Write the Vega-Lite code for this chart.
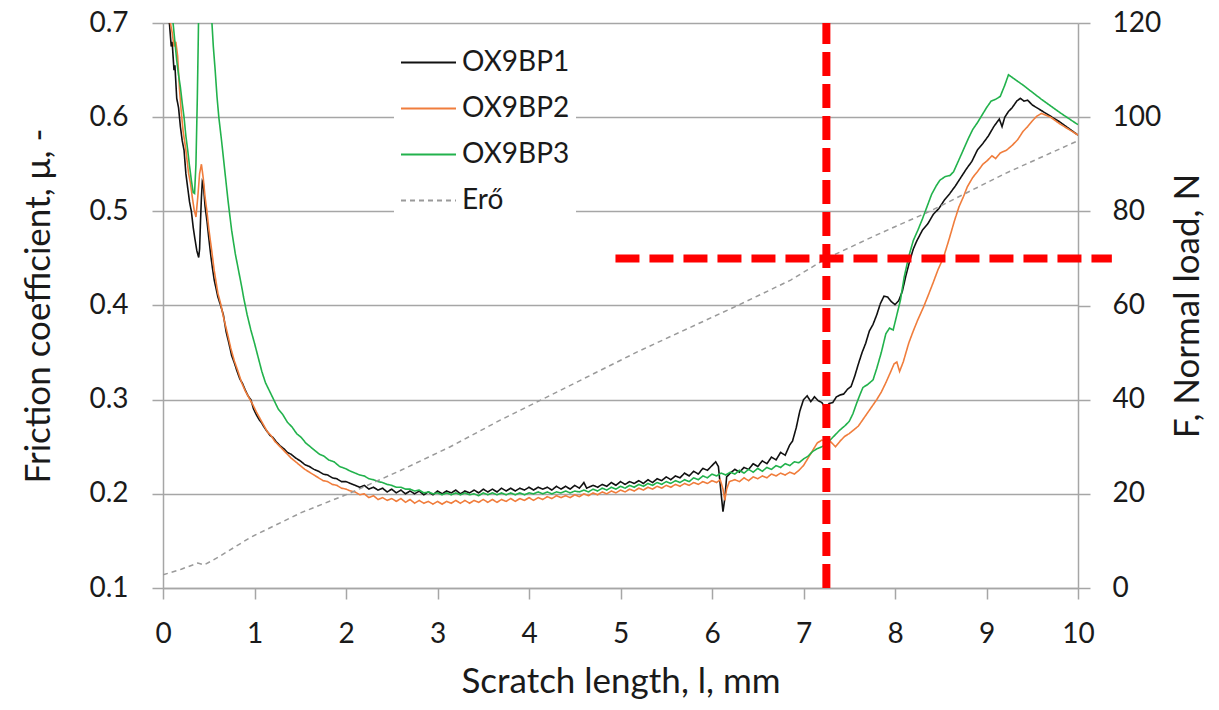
{
  "$schema": "https://vega.github.io/schema/vega-lite/v6.json",
  "width": 915,
  "height": 565,
  "autosize": {"type": "none"},
  "padding": {"left": 163, "top": 23, "right": 141, "bottom": 122},
  "background": "white",
  "config": {
    "font": "Lato",
    "view": {"stroke": null},
    "axis": {
      "domainColor": "#a6a6a6", "domainWidth": 1.5,
      "tickColor": "#a6a6a6", "tickWidth": 1.5,
      "labelColor": "#1a1a1a", "titleColor": "#1a1a1a",
      "labelFontSize": 28, "titleFontSize": 35, "titleFontWeight": "normal",
      "labelFlush": false, "labelOverlap": false,
      "gridColor": "#a6a6a6", "gridWidth": 1.5
    }
  },
  "datasets": {
    "fric": [
      {"x":0.05,"mu":0.76,"s":"OX9BP1"},{"x":0.07,"mu":0.70,"s":"OX9BP1"},{"x":0.09,"mu":0.675,"s":"OX9BP1"},{"x":0.1,"mu":0.68,"s":"OX9BP1"},{"x":0.12,"mu":0.65,"s":"OX9BP1"},{"x":0.13,"mu":0.655,"s":"OX9BP1"},{"x":0.15,"mu":0.62,"s":"OX9BP1"},{"x":0.17,"mu":0.61,"s":"OX9BP1"},{"x":0.19,"mu":0.59,"s":"OX9BP1"},{"x":0.21,"mu":0.575,"s":"OX9BP1"},{"x":0.23,"mu":0.565,"s":"OX9BP1"},{"x":0.25,"mu":0.54,"s":"OX9BP1"},{"x":0.27,"mu":0.525,"s":"OX9BP1"},{"x":0.29,"mu":0.51,"s":"OX9BP1"},{"x":0.31,"mu":0.5,"s":"OX9BP1"},{"x":0.33,"mu":0.483,"s":"OX9BP1"},{"x":0.35,"mu":0.47,"s":"OX9BP1"},{"x":0.37,"mu":0.458,"s":"OX9BP1"},{"x":0.39,"mu":0.451,"s":"OX9BP1"},{"x":0.4,"mu":0.46,"s":"OX9BP1"},{"x":0.41,"mu":0.49,"s":"OX9BP1"},{"x":0.42,"mu":0.515,"s":"OX9BP1"},{"x":0.43,"mu":0.532,"s":"OX9BP1"},{"x":0.44,"mu":0.53,"s":"OX9BP1"},{"x":0.46,"mu":0.505,"s":"OX9BP1"},{"x":0.48,"mu":0.49,"s":"OX9BP1"},{"x":0.5,"mu":0.472,"s":"OX9BP1"},{"x":0.52,"mu":0.455,"s":"OX9BP1"},{"x":0.54,"mu":0.44,"s":"OX9BP1"},{"x":0.56,"mu":0.427,"s":"OX9BP1"},{"x":0.58,"mu":0.418,"s":"OX9BP1"},{"x":0.6,"mu":0.409,"s":"OX9BP1"},{"x":0.63,"mu":0.4,"s":"OX9BP1"},{"x":0.66,"mu":0.39,"s":"OX9BP1"},{"x":0.69,"mu":0.372,"s":"OX9BP1"},{"x":0.72,"mu":0.36,"s":"OX9BP1"},{"x":0.75,"mu":0.347,"s":"OX9BP1"},{"x":0.78,"mu":0.339,"s":"OX9BP1"},{"x":0.81,"mu":0.33,"s":"OX9BP1"},{"x":0.84,"mu":0.322,"s":"OX9BP1"},{"x":0.87,"mu":0.317,"s":"OX9BP1"},{"x":0.9,"mu":0.31,"s":"OX9BP1"},{"x":0.93,"mu":0.304,"s":"OX9BP1"},{"x":0.96,"mu":0.3,"s":"OX9BP1"},{"x":0.99,"mu":0.29,"s":"OX9BP1"},{"x":1.02,"mu":0.284,"s":"OX9BP1"},{"x":1.05,"mu":0.279,"s":"OX9BP1"},{"x":1.08,"mu":0.275,"s":"OX9BP1"},{"x":1.11,"mu":0.27,"s":"OX9BP1"},{"x":1.14,"mu":0.266,"s":"OX9BP1"},{"x":1.17,"mu":0.262,"s":"OX9BP1"},{"x":1.2,"mu":0.26,"s":"OX9BP1"},{"x":1.24,"mu":0.255,"s":"OX9BP1"},{"x":1.28,"mu":0.251,"s":"OX9BP1"},{"x":1.32,"mu":0.248,"s":"OX9BP1"},{"x":1.36,"mu":0.244,"s":"OX9BP1"},{"x":1.4,"mu":0.242,"s":"OX9BP1"},{"x":1.45,"mu":0.238,"s":"OX9BP1"},{"x":1.5,"mu":0.235,"s":"OX9BP1"},{"x":1.55,"mu":0.231,"s":"OX9BP1"},{"x":1.6,"mu":0.229,"s":"OX9BP1"},{"x":1.65,"mu":0.226,"s":"OX9BP1"},{"x":1.7,"mu":0.224,"s":"OX9BP1"},{"x":1.75,"mu":0.221,"s":"OX9BP1"},{"x":1.8,"mu":0.22,"s":"OX9BP1"},{"x":1.85,"mu":0.217,"s":"OX9BP1"},{"x":1.9,"mu":0.216,"s":"OX9BP1"},{"x":1.95,"mu":0.213,"s":"OX9BP1"},{"x":2.0,"mu":0.213,"s":"OX9BP1"},{"x":2.05,"mu":0.211,"s":"OX9BP1"},{"x":2.1,"mu":0.209,"s":"OX9BP1"},{"x":2.15,"mu":0.207,"s":"OX9BP1"},{"x":2.2,"mu":0.209,"s":"OX9BP1"},{"x":2.25,"mu":0.205,"s":"OX9BP1"},{"x":2.3,"mu":0.207,"s":"OX9BP1"},{"x":2.35,"mu":0.204,"s":"OX9BP1"},{"x":2.4,"mu":0.206,"s":"OX9BP1"},{"x":2.45,"mu":0.202,"s":"OX9BP1"},{"x":2.5,"mu":0.205,"s":"OX9BP1"},{"x":2.55,"mu":0.201,"s":"OX9BP1"},{"x":2.6,"mu":0.204,"s":"OX9BP1"},{"x":2.65,"mu":0.2,"s":"OX9BP1"},{"x":2.7,"mu":0.203,"s":"OX9BP1"},{"x":2.75,"mu":0.2,"s":"OX9BP1"},{"x":2.8,"mu":0.203,"s":"OX9BP1"},{"x":2.85,"mu":0.199,"s":"OX9BP1"},{"x":2.9,"mu":0.202,"s":"OX9BP1"},{"x":2.95,"mu":0.199,"s":"OX9BP1"},{"x":3.0,"mu":0.203,"s":"OX9BP1"},{"x":3.05,"mu":0.2,"s":"OX9BP1"},{"x":3.1,"mu":0.203,"s":"OX9BP1"},{"x":3.15,"mu":0.201,"s":"OX9BP1"},{"x":3.2,"mu":0.204,"s":"OX9BP1"},{"x":3.25,"mu":0.2,"s":"OX9BP1"},{"x":3.3,"mu":0.203,"s":"OX9BP1"},{"x":3.35,"mu":0.201,"s":"OX9BP1"},{"x":3.4,"mu":0.204,"s":"OX9BP1"},{"x":3.45,"mu":0.201,"s":"OX9BP1"},{"x":3.5,"mu":0.205,"s":"OX9BP1"},{"x":3.55,"mu":0.202,"s":"OX9BP1"},{"x":3.6,"mu":0.205,"s":"OX9BP1"},{"x":3.65,"mu":0.202,"s":"OX9BP1"},{"x":3.7,"mu":0.206,"s":"OX9BP1"},{"x":3.75,"mu":0.203,"s":"OX9BP1"},{"x":3.8,"mu":0.206,"s":"OX9BP1"},{"x":3.85,"mu":0.203,"s":"OX9BP1"},{"x":3.9,"mu":0.206,"s":"OX9BP1"},{"x":3.95,"mu":0.204,"s":"OX9BP1"},{"x":4.0,"mu":0.207,"s":"OX9BP1"},{"x":4.05,"mu":0.204,"s":"OX9BP1"},{"x":4.1,"mu":0.207,"s":"OX9BP1"},{"x":4.15,"mu":0.205,"s":"OX9BP1"},{"x":4.2,"mu":0.207,"s":"OX9BP1"},{"x":4.25,"mu":0.204,"s":"OX9BP1"},{"x":4.3,"mu":0.208,"s":"OX9BP1"},{"x":4.35,"mu":0.205,"s":"OX9BP1"},{"x":4.4,"mu":0.208,"s":"OX9BP1"},{"x":4.45,"mu":0.205,"s":"OX9BP1"},{"x":4.5,"mu":0.209,"s":"OX9BP1"},{"x":4.55,"mu":0.206,"s":"OX9BP1"},{"x":4.6,"mu":0.212,"s":"OX9BP1"},{"x":4.63,"mu":0.206,"s":"OX9BP1"},{"x":4.7,"mu":0.209,"s":"OX9BP1"},{"x":4.75,"mu":0.207,"s":"OX9BP1"},{"x":4.8,"mu":0.21,"s":"OX9BP1"},{"x":4.85,"mu":0.208,"s":"OX9BP1"},{"x":4.9,"mu":0.212,"s":"OX9BP1"},{"x":4.95,"mu":0.209,"s":"OX9BP1"},{"x":5.0,"mu":0.213,"s":"OX9BP1"},{"x":5.05,"mu":0.21,"s":"OX9BP1"},{"x":5.1,"mu":0.213,"s":"OX9BP1"},{"x":5.15,"mu":0.211,"s":"OX9BP1"},{"x":5.2,"mu":0.214,"s":"OX9BP1"},{"x":5.25,"mu":0.211,"s":"OX9BP1"},{"x":5.3,"mu":0.215,"s":"OX9BP1"},{"x":5.35,"mu":0.212,"s":"OX9BP1"},{"x":5.4,"mu":0.216,"s":"OX9BP1"},{"x":5.45,"mu":0.214,"s":"OX9BP1"},{"x":5.5,"mu":0.218,"s":"OX9BP1"},{"x":5.55,"mu":0.215,"s":"OX9BP1"},{"x":5.6,"mu":0.219,"s":"OX9BP1"},{"x":5.65,"mu":0.217,"s":"OX9BP1"},{"x":5.7,"mu":0.222,"s":"OX9BP1"},{"x":5.75,"mu":0.219,"s":"OX9BP1"},{"x":5.8,"mu":0.224,"s":"OX9BP1"},{"x":5.85,"mu":0.221,"s":"OX9BP1"},{"x":5.9,"mu":0.227,"s":"OX9BP1"},{"x":5.95,"mu":0.225,"s":"OX9BP1"},{"x":6.0,"mu":0.23,"s":"OX9BP1"},{"x":6.04,"mu":0.234,"s":"OX9BP1"},{"x":6.07,"mu":0.229,"s":"OX9BP1"},{"x":6.1,"mu":0.2,"s":"OX9BP1"},{"x":6.12,"mu":0.181,"s":"OX9BP1"},{"x":6.14,"mu":0.195,"s":"OX9BP1"},{"x":6.16,"mu":0.218,"s":"OX9BP1"},{"x":6.2,"mu":0.222,"s":"OX9BP1"},{"x":6.25,"mu":0.226,"s":"OX9BP1"},{"x":6.3,"mu":0.223,"s":"OX9BP1"},{"x":6.35,"mu":0.228,"s":"OX9BP1"},{"x":6.4,"mu":0.226,"s":"OX9BP1"},{"x":6.45,"mu":0.232,"s":"OX9BP1"},{"x":6.5,"mu":0.229,"s":"OX9BP1"},{"x":6.55,"mu":0.235,"s":"OX9BP1"},{"x":6.6,"mu":0.232,"s":"OX9BP1"},{"x":6.65,"mu":0.239,"s":"OX9BP1"},{"x":6.7,"mu":0.236,"s":"OX9BP1"},{"x":6.75,"mu":0.244,"s":"OX9BP1"},{"x":6.8,"mu":0.241,"s":"OX9BP1"},{"x":6.85,"mu":0.252,"s":"OX9BP1"},{"x":6.88,"mu":0.256,"s":"OX9BP1"},{"x":6.92,"mu":0.27,"s":"OX9BP1"},{"x":6.96,"mu":0.288,"s":"OX9BP1"},{"x":7.0,"mu":0.3,"s":"OX9BP1"},{"x":7.04,"mu":0.304,"s":"OX9BP1"},{"x":7.08,"mu":0.298,"s":"OX9BP1"},{"x":7.12,"mu":0.303,"s":"OX9BP1"},{"x":7.16,"mu":0.299,"s":"OX9BP1"},{"x":7.2,"mu":0.297,"s":"OX9BP1"},{"x":7.24,"mu":0.291,"s":"OX9BP1"},{"x":7.28,"mu":0.296,"s":"OX9BP1"},{"x":7.32,"mu":0.297,"s":"OX9BP1"},{"x":7.36,"mu":0.303,"s":"OX9BP1"},{"x":7.4,"mu":0.305,"s":"OX9BP1"},{"x":7.44,"mu":0.306,"s":"OX9BP1"},{"x":7.48,"mu":0.311,"s":"OX9BP1"},{"x":7.52,"mu":0.314,"s":"OX9BP1"},{"x":7.56,"mu":0.325,"s":"OX9BP1"},{"x":7.6,"mu":0.338,"s":"OX9BP1"},{"x":7.64,"mu":0.35,"s":"OX9BP1"},{"x":7.68,"mu":0.36,"s":"OX9BP1"},{"x":7.72,"mu":0.373,"s":"OX9BP1"},{"x":7.76,"mu":0.38,"s":"OX9BP1"},{"x":7.8,"mu":0.39,"s":"OX9BP1"},{"x":7.84,"mu":0.402,"s":"OX9BP1"},{"x":7.88,"mu":0.41,"s":"OX9BP1"},{"x":7.92,"mu":0.409,"s":"OX9BP1"},{"x":7.96,"mu":0.404,"s":"OX9BP1"},{"x":8.0,"mu":0.401,"s":"OX9BP1"},{"x":8.04,"mu":0.405,"s":"OX9BP1"},{"x":8.08,"mu":0.415,"s":"OX9BP1"},{"x":8.12,"mu":0.432,"s":"OX9BP1"},{"x":8.16,"mu":0.447,"s":"OX9BP1"},{"x":8.2,"mu":0.46,"s":"OX9BP1"},{"x":8.24,"mu":0.469,"s":"OX9BP1"},{"x":8.3,"mu":0.48,"s":"OX9BP1"},{"x":8.36,"mu":0.487,"s":"OX9BP1"},{"x":8.42,"mu":0.497,"s":"OX9BP1"},{"x":8.48,"mu":0.503,"s":"OX9BP1"},{"x":8.54,"mu":0.512,"s":"OX9BP1"},{"x":8.6,"mu":0.519,"s":"OX9BP1"},{"x":8.66,"mu":0.527,"s":"OX9BP1"},{"x":8.72,"mu":0.536,"s":"OX9BP1"},{"x":8.78,"mu":0.545,"s":"OX9BP1"},{"x":8.84,"mu":0.553,"s":"OX9BP1"},{"x":8.9,"mu":0.565,"s":"OX9BP1"},{"x":8.96,"mu":0.572,"s":"OX9BP1"},{"x":9.02,"mu":0.58,"s":"OX9BP1"},{"x":9.08,"mu":0.59,"s":"OX9BP1"},{"x":9.14,"mu":0.598,"s":"OX9BP1"},{"x":9.17,"mu":0.59,"s":"OX9BP1"},{"x":9.2,"mu":0.6,"s":"OX9BP1"},{"x":9.24,"mu":0.606,"s":"OX9BP1"},{"x":9.28,"mu":0.61,"s":"OX9BP1"},{"x":9.33,"mu":0.617,"s":"OX9BP1"},{"x":9.37,"mu":0.62,"s":"OX9BP1"},{"x":9.41,"mu":0.617,"s":"OX9BP1"},{"x":9.45,"mu":0.618,"s":"OX9BP1"},{"x":9.5,"mu":0.613,"s":"OX9BP1"},{"x":9.6,"mu":0.607,"s":"OX9BP1"},{"x":9.7,"mu":0.601,"s":"OX9BP1"},{"x":9.8,"mu":0.595,"s":"OX9BP1"},{"x":9.9,"mu":0.588,"s":"OX9BP1"},{"x":10.0,"mu":0.581,"s":"OX9BP1"},

      {"x":0.06,"mu":0.76,"s":"OX9BP2"},{"x":0.08,"mu":0.7,"s":"OX9BP2"},{"x":0.1,"mu":0.69,"s":"OX9BP2"},{"x":0.12,"mu":0.675,"s":"OX9BP2"},{"x":0.14,"mu":0.68,"s":"OX9BP2"},{"x":0.16,"mu":0.665,"s":"OX9BP2"},{"x":0.18,"mu":0.63,"s":"OX9BP2"},{"x":0.2,"mu":0.605,"s":"OX9BP2"},{"x":0.22,"mu":0.585,"s":"OX9BP2"},{"x":0.25,"mu":0.565,"s":"OX9BP2"},{"x":0.28,"mu":0.54,"s":"OX9BP2"},{"x":0.3,"mu":0.53,"s":"OX9BP2"},{"x":0.32,"mu":0.515,"s":"OX9BP2"},{"x":0.34,"mu":0.502,"s":"OX9BP2"},{"x":0.36,"mu":0.494,"s":"OX9BP2"},{"x":0.38,"mu":0.515,"s":"OX9BP2"},{"x":0.4,"mu":0.54,"s":"OX9BP2"},{"x":0.42,"mu":0.55,"s":"OX9BP2"},{"x":0.44,"mu":0.535,"s":"OX9BP2"},{"x":0.46,"mu":0.515,"s":"OX9BP2"},{"x":0.48,"mu":0.5,"s":"OX9BP2"},{"x":0.5,"mu":0.482,"s":"OX9BP2"},{"x":0.53,"mu":0.46,"s":"OX9BP2"},{"x":0.56,"mu":0.437,"s":"OX9BP2"},{"x":0.6,"mu":0.413,"s":"OX9BP2"},{"x":0.63,"mu":0.402,"s":"OX9BP2"},{"x":0.66,"mu":0.388,"s":"OX9BP2"},{"x":0.7,"mu":0.372,"s":"OX9BP2"},{"x":0.74,"mu":0.355,"s":"OX9BP2"},{"x":0.78,"mu":0.341,"s":"OX9BP2"},{"x":0.82,"mu":0.33,"s":"OX9BP2"},{"x":0.86,"mu":0.318,"s":"OX9BP2"},{"x":0.9,"mu":0.309,"s":"OX9BP2"},{"x":0.94,"mu":0.302,"s":"OX9BP2"},{"x":0.98,"mu":0.295,"s":"OX9BP2"},{"x":1.02,"mu":0.287,"s":"OX9BP2"},{"x":1.06,"mu":0.28,"s":"OX9BP2"},{"x":1.1,"mu":0.273,"s":"OX9BP2"},{"x":1.14,"mu":0.266,"s":"OX9BP2"},{"x":1.18,"mu":0.262,"s":"OX9BP2"},{"x":1.22,"mu":0.256,"s":"OX9BP2"},{"x":1.26,"mu":0.252,"s":"OX9BP2"},{"x":1.3,"mu":0.248,"s":"OX9BP2"},{"x":1.35,"mu":0.243,"s":"OX9BP2"},{"x":1.4,"mu":0.238,"s":"OX9BP2"},{"x":1.45,"mu":0.234,"s":"OX9BP2"},{"x":1.5,"mu":0.23,"s":"OX9BP2"},{"x":1.55,"mu":0.226,"s":"OX9BP2"},{"x":1.6,"mu":0.223,"s":"OX9BP2"},{"x":1.65,"mu":0.22,"s":"OX9BP2"},{"x":1.7,"mu":0.217,"s":"OX9BP2"},{"x":1.75,"mu":0.214,"s":"OX9BP2"},{"x":1.8,"mu":0.213,"s":"OX9BP2"},{"x":1.85,"mu":0.21,"s":"OX9BP2"},{"x":1.9,"mu":0.209,"s":"OX9BP2"},{"x":1.95,"mu":0.206,"s":"OX9BP2"},{"x":2.0,"mu":0.205,"s":"OX9BP2"},{"x":2.05,"mu":0.203,"s":"OX9BP2"},{"x":2.1,"mu":0.202,"s":"OX9BP2"},{"x":2.15,"mu":0.199,"s":"OX9BP2"},{"x":2.2,"mu":0.2,"s":"OX9BP2"},{"x":2.25,"mu":0.196,"s":"OX9BP2"},{"x":2.3,"mu":0.198,"s":"OX9BP2"},{"x":2.35,"mu":0.194,"s":"OX9BP2"},{"x":2.4,"mu":0.196,"s":"OX9BP2"},{"x":2.45,"mu":0.193,"s":"OX9BP2"},{"x":2.5,"mu":0.195,"s":"OX9BP2"},{"x":2.55,"mu":0.192,"s":"OX9BP2"},{"x":2.6,"mu":0.195,"s":"OX9BP2"},{"x":2.65,"mu":0.191,"s":"OX9BP2"},{"x":2.7,"mu":0.194,"s":"OX9BP2"},{"x":2.75,"mu":0.19,"s":"OX9BP2"},{"x":2.8,"mu":0.193,"s":"OX9BP2"},{"x":2.85,"mu":0.19,"s":"OX9BP2"},{"x":2.9,"mu":0.192,"s":"OX9BP2"},{"x":2.95,"mu":0.189,"s":"OX9BP2"},{"x":3.0,"mu":0.192,"s":"OX9BP2"},{"x":3.05,"mu":0.189,"s":"OX9BP2"},{"x":3.1,"mu":0.192,"s":"OX9BP2"},{"x":3.15,"mu":0.19,"s":"OX9BP2"},{"x":3.2,"mu":0.193,"s":"OX9BP2"},{"x":3.25,"mu":0.19,"s":"OX9BP2"},{"x":3.3,"mu":0.193,"s":"OX9BP2"},{"x":3.35,"mu":0.19,"s":"OX9BP2"},{"x":3.4,"mu":0.193,"s":"OX9BP2"},{"x":3.45,"mu":0.191,"s":"OX9BP2"},{"x":3.5,"mu":0.194,"s":"OX9BP2"},{"x":3.55,"mu":0.191,"s":"OX9BP2"},{"x":3.6,"mu":0.194,"s":"OX9BP2"},{"x":3.65,"mu":0.191,"s":"OX9BP2"},{"x":3.7,"mu":0.194,"s":"OX9BP2"},{"x":3.75,"mu":0.192,"s":"OX9BP2"},{"x":3.8,"mu":0.195,"s":"OX9BP2"},{"x":3.85,"mu":0.192,"s":"OX9BP2"},{"x":3.9,"mu":0.195,"s":"OX9BP2"},{"x":3.95,"mu":0.193,"s":"OX9BP2"},{"x":4.0,"mu":0.196,"s":"OX9BP2"},{"x":4.05,"mu":0.193,"s":"OX9BP2"},{"x":4.1,"mu":0.196,"s":"OX9BP2"},{"x":4.15,"mu":0.194,"s":"OX9BP2"},{"x":4.2,"mu":0.197,"s":"OX9BP2"},{"x":4.25,"mu":0.195,"s":"OX9BP2"},{"x":4.3,"mu":0.198,"s":"OX9BP2"},{"x":4.35,"mu":0.196,"s":"OX9BP2"},{"x":4.4,"mu":0.198,"s":"OX9BP2"},{"x":4.45,"mu":0.196,"s":"OX9BP2"},{"x":4.5,"mu":0.199,"s":"OX9BP2"},{"x":4.55,"mu":0.197,"s":"OX9BP2"},{"x":4.6,"mu":0.2,"s":"OX9BP2"},{"x":4.65,"mu":0.198,"s":"OX9BP2"},{"x":4.7,"mu":0.201,"s":"OX9BP2"},{"x":4.75,"mu":0.199,"s":"OX9BP2"},{"x":4.8,"mu":0.202,"s":"OX9BP2"},{"x":4.85,"mu":0.2,"s":"OX9BP2"},{"x":4.9,"mu":0.203,"s":"OX9BP2"},{"x":4.95,"mu":0.201,"s":"OX9BP2"},{"x":5.0,"mu":0.204,"s":"OX9BP2"},{"x":5.05,"mu":0.202,"s":"OX9BP2"},{"x":5.1,"mu":0.205,"s":"OX9BP2"},{"x":5.15,"mu":0.203,"s":"OX9BP2"},{"x":5.2,"mu":0.206,"s":"OX9BP2"},{"x":5.25,"mu":0.204,"s":"OX9BP2"},{"x":5.3,"mu":0.207,"s":"OX9BP2"},{"x":5.35,"mu":0.205,"s":"OX9BP2"},{"x":5.4,"mu":0.208,"s":"OX9BP2"},{"x":5.45,"mu":0.206,"s":"OX9BP2"},{"x":5.5,"mu":0.209,"s":"OX9BP2"},{"x":5.55,"mu":0.207,"s":"OX9BP2"},{"x":5.6,"mu":0.21,"s":"OX9BP2"},{"x":5.65,"mu":0.208,"s":"OX9BP2"},{"x":5.7,"mu":0.211,"s":"OX9BP2"},{"x":5.75,"mu":0.209,"s":"OX9BP2"},{"x":5.8,"mu":0.212,"s":"OX9BP2"},{"x":5.85,"mu":0.21,"s":"OX9BP2"},{"x":5.9,"mu":0.213,"s":"OX9BP2"},{"x":5.95,"mu":0.211,"s":"OX9BP2"},{"x":6.0,"mu":0.214,"s":"OX9BP2"},{"x":6.05,"mu":0.212,"s":"OX9BP2"},{"x":6.09,"mu":0.215,"s":"OX9BP2"},{"x":6.12,"mu":0.205,"s":"OX9BP2"},{"x":6.14,"mu":0.193,"s":"OX9BP2"},{"x":6.16,"mu":0.205,"s":"OX9BP2"},{"x":6.19,"mu":0.213,"s":"OX9BP2"},{"x":6.25,"mu":0.215,"s":"OX9BP2"},{"x":6.3,"mu":0.213,"s":"OX9BP2"},{"x":6.35,"mu":0.217,"s":"OX9BP2"},{"x":6.4,"mu":0.214,"s":"OX9BP2"},{"x":6.45,"mu":0.218,"s":"OX9BP2"},{"x":6.5,"mu":0.216,"s":"OX9BP2"},{"x":6.55,"mu":0.219,"s":"OX9BP2"},{"x":6.6,"mu":0.217,"s":"OX9BP2"},{"x":6.65,"mu":0.221,"s":"OX9BP2"},{"x":6.7,"mu":0.219,"s":"OX9BP2"},{"x":6.75,"mu":0.222,"s":"OX9BP2"},{"x":6.8,"mu":0.22,"s":"OX9BP2"},{"x":6.85,"mu":0.223,"s":"OX9BP2"},{"x":6.9,"mu":0.221,"s":"OX9BP2"},{"x":6.95,"mu":0.225,"s":"OX9BP2"},{"x":7.0,"mu":0.23,"s":"OX9BP2"},{"x":7.05,"mu":0.238,"s":"OX9BP2"},{"x":7.1,"mu":0.246,"s":"OX9BP2"},{"x":7.15,"mu":0.254,"s":"OX9BP2"},{"x":7.2,"mu":0.257,"s":"OX9BP2"},{"x":7.25,"mu":0.256,"s":"OX9BP2"},{"x":7.3,"mu":0.255,"s":"OX9BP2"},{"x":7.35,"mu":0.25,"s":"OX9BP2"},{"x":7.4,"mu":0.256,"s":"OX9BP2"},{"x":7.45,"mu":0.261,"s":"OX9BP2"},{"x":7.5,"mu":0.264,"s":"OX9BP2"},{"x":7.55,"mu":0.268,"s":"OX9BP2"},{"x":7.6,"mu":0.272,"s":"OX9BP2"},{"x":7.65,"mu":0.279,"s":"OX9BP2"},{"x":7.7,"mu":0.286,"s":"OX9BP2"},{"x":7.75,"mu":0.293,"s":"OX9BP2"},{"x":7.8,"mu":0.3,"s":"OX9BP2"},{"x":7.85,"mu":0.308,"s":"OX9BP2"},{"x":7.9,"mu":0.318,"s":"OX9BP2"},{"x":7.95,"mu":0.329,"s":"OX9BP2"},{"x":7.99,"mu":0.338,"s":"OX9BP2"},{"x":8.02,"mu":0.34,"s":"OX9BP2"},{"x":8.05,"mu":0.33,"s":"OX9BP2"},{"x":8.09,"mu":0.34,"s":"OX9BP2"},{"x":8.15,"mu":0.36,"s":"OX9BP2"},{"x":8.2,"mu":0.373,"s":"OX9BP2"},{"x":8.25,"mu":0.385,"s":"OX9BP2"},{"x":8.31,"mu":0.398,"s":"OX9BP2"},{"x":8.36,"mu":0.41,"s":"OX9BP2"},{"x":8.42,"mu":0.425,"s":"OX9BP2"},{"x":8.47,"mu":0.438,"s":"OX9BP2"},{"x":8.53,"mu":0.451,"s":"OX9BP2"},{"x":8.59,"mu":0.47,"s":"OX9BP2"},{"x":8.65,"mu":0.49,"s":"OX9BP2"},{"x":8.7,"mu":0.505,"s":"OX9BP2"},{"x":8.75,"mu":0.516,"s":"OX9BP2"},{"x":8.79,"mu":0.526,"s":"OX9BP2"},{"x":8.85,"mu":0.536,"s":"OX9BP2"},{"x":8.9,"mu":0.542,"s":"OX9BP2"},{"x":8.96,"mu":0.55,"s":"OX9BP2"},{"x":9.01,"mu":0.554,"s":"OX9BP2"},{"x":9.06,"mu":0.559,"s":"OX9BP2"},{"x":9.1,"mu":0.556,"s":"OX9BP2"},{"x":9.15,"mu":0.562,"s":"OX9BP2"},{"x":9.22,"mu":0.565,"s":"OX9BP2"},{"x":9.28,"mu":0.57,"s":"OX9BP2"},{"x":9.34,"mu":0.576,"s":"OX9BP2"},{"x":9.4,"mu":0.585,"s":"OX9BP2"},{"x":9.45,"mu":0.59,"s":"OX9BP2"},{"x":9.5,"mu":0.596,"s":"OX9BP2"},{"x":9.55,"mu":0.601,"s":"OX9BP2"},{"x":9.6,"mu":0.604,"s":"OX9BP2"},{"x":9.65,"mu":0.602,"s":"OX9BP2"},{"x":9.7,"mu":0.6,"s":"OX9BP2"},{"x":9.8,"mu":0.593,"s":"OX9BP2"},{"x":9.9,"mu":0.587,"s":"OX9BP2"},{"x":10.0,"mu":0.581,"s":"OX9BP2"},

      {"x":0.08,"mu":0.76,"s":"OX9BP3"},{"x":0.11,"mu":0.7,"s":"OX9BP3"},{"x":0.13,"mu":0.68,"s":"OX9BP3"},{"x":0.15,"mu":0.66,"s":"OX9BP3"},{"x":0.17,"mu":0.645,"s":"OX9BP3"},{"x":0.19,"mu":0.632,"s":"OX9BP3"},{"x":0.21,"mu":0.615,"s":"OX9BP3"},{"x":0.23,"mu":0.6,"s":"OX9BP3"},{"x":0.25,"mu":0.58,"s":"OX9BP3"},{"x":0.27,"mu":0.565,"s":"OX9BP3"},{"x":0.29,"mu":0.548,"s":"OX9BP3"},{"x":0.31,"mu":0.533,"s":"OX9BP3"},{"x":0.33,"mu":0.52,"s":"OX9BP3"},{"x":0.345,"mu":0.519,"s":"OX9BP3"},{"x":0.36,"mu":0.55,"s":"OX9BP3"},{"x":0.375,"mu":0.62,"s":"OX9BP3"},{"x":0.385,"mu":0.68,"s":"OX9BP3"},{"x":0.395,"mu":0.75,"s":"OX9BP3"},{"x":0.42,"mu":0.85,"s":"OX9BP3"},{"x":0.5,"mu":0.85,"s":"OX9BP3"},{"x":0.52,"mu":0.75,"s":"OX9BP3"},{"x":0.535,"mu":0.7,"s":"OX9BP3"},{"x":0.55,"mu":0.675,"s":"OX9BP3"},{"x":0.57,"mu":0.65,"s":"OX9BP3"},{"x":0.59,"mu":0.622,"s":"OX9BP3"},{"x":0.61,"mu":0.6,"s":"OX9BP3"},{"x":0.64,"mu":0.575,"s":"OX9BP3"},{"x":0.67,"mu":0.548,"s":"OX9BP3"},{"x":0.71,"mu":0.512,"s":"OX9BP3"},{"x":0.75,"mu":0.48,"s":"OX9BP3"},{"x":0.79,"mu":0.455,"s":"OX9BP3"},{"x":0.83,"mu":0.435,"s":"OX9BP3"},{"x":0.86,"mu":0.42,"s":"OX9BP3"},{"x":0.88,"mu":0.409,"s":"OX9BP3"},{"x":0.92,"mu":0.39,"s":"OX9BP3"},{"x":0.96,"mu":0.374,"s":"OX9BP3"},{"x":1.0,"mu":0.36,"s":"OX9BP3"},{"x":1.04,"mu":0.345,"s":"OX9BP3"},{"x":1.08,"mu":0.33,"s":"OX9BP3"},{"x":1.12,"mu":0.318,"s":"OX9BP3"},{"x":1.16,"mu":0.31,"s":"OX9BP3"},{"x":1.21,"mu":0.3,"s":"OX9BP3"},{"x":1.26,"mu":0.29,"s":"OX9BP3"},{"x":1.31,"mu":0.284,"s":"OX9BP3"},{"x":1.36,"mu":0.276,"s":"OX9BP3"},{"x":1.41,"mu":0.271,"s":"OX9BP3"},{"x":1.46,"mu":0.264,"s":"OX9BP3"},{"x":1.51,"mu":0.26,"s":"OX9BP3"},{"x":1.56,"mu":0.254,"s":"OX9BP3"},{"x":1.61,"mu":0.25,"s":"OX9BP3"},{"x":1.66,"mu":0.246,"s":"OX9BP3"},{"x":1.71,"mu":0.242,"s":"OX9BP3"},{"x":1.76,"mu":0.24,"s":"OX9BP3"},{"x":1.81,"mu":0.236,"s":"OX9BP3"},{"x":1.87,"mu":0.234,"s":"OX9BP3"},{"x":1.93,"mu":0.229,"s":"OX9BP3"},{"x":1.99,"mu":0.227,"s":"OX9BP3"},{"x":2.05,"mu":0.224,"s":"OX9BP3"},{"x":2.1,"mu":0.222,"s":"OX9BP3"},{"x":2.15,"mu":0.22,"s":"OX9BP3"},{"x":2.2,"mu":0.219,"s":"OX9BP3"},{"x":2.25,"mu":0.216,"s":"OX9BP3"},{"x":2.3,"mu":0.215,"s":"OX9BP3"},{"x":2.35,"mu":0.213,"s":"OX9BP3"},{"x":2.4,"mu":0.212,"s":"OX9BP3"},{"x":2.45,"mu":0.21,"s":"OX9BP3"},{"x":2.5,"mu":0.209,"s":"OX9BP3"},{"x":2.55,"mu":0.207,"s":"OX9BP3"},{"x":2.6,"mu":0.207,"s":"OX9BP3"},{"x":2.65,"mu":0.205,"s":"OX9BP3"},{"x":2.7,"mu":0.205,"s":"OX9BP3"},{"x":2.75,"mu":0.203,"s":"OX9BP3"},{"x":2.8,"mu":0.204,"s":"OX9BP3"},{"x":2.85,"mu":0.201,"s":"OX9BP3"},{"x":2.9,"mu":0.202,"s":"OX9BP3"},{"x":2.95,"mu":0.2,"s":"OX9BP3"},{"x":3.0,"mu":0.201,"s":"OX9BP3"},{"x":3.05,"mu":0.199,"s":"OX9BP3"},{"x":3.1,"mu":0.201,"s":"OX9BP3"},{"x":3.15,"mu":0.199,"s":"OX9BP3"},{"x":3.2,"mu":0.201,"s":"OX9BP3"},{"x":3.25,"mu":0.199,"s":"OX9BP3"},{"x":3.3,"mu":0.201,"s":"OX9BP3"},{"x":3.35,"mu":0.199,"s":"OX9BP3"},{"x":3.4,"mu":0.2,"s":"OX9BP3"},{"x":3.45,"mu":0.198,"s":"OX9BP3"},{"x":3.5,"mu":0.201,"s":"OX9BP3"},{"x":3.55,"mu":0.199,"s":"OX9BP3"},{"x":3.6,"mu":0.201,"s":"OX9BP3"},{"x":3.65,"mu":0.199,"s":"OX9BP3"},{"x":3.7,"mu":0.201,"s":"OX9BP3"},{"x":3.75,"mu":0.199,"s":"OX9BP3"},{"x":3.8,"mu":0.201,"s":"OX9BP3"},{"x":3.85,"mu":0.199,"s":"OX9BP3"},{"x":3.9,"mu":0.201,"s":"OX9BP3"},{"x":3.95,"mu":0.199,"s":"OX9BP3"},{"x":4.0,"mu":0.201,"s":"OX9BP3"},{"x":4.05,"mu":0.2,"s":"OX9BP3"},{"x":4.1,"mu":0.202,"s":"OX9BP3"},{"x":4.15,"mu":0.2,"s":"OX9BP3"},{"x":4.2,"mu":0.202,"s":"OX9BP3"},{"x":4.25,"mu":0.2,"s":"OX9BP3"},{"x":4.3,"mu":0.202,"s":"OX9BP3"},{"x":4.35,"mu":0.201,"s":"OX9BP3"},{"x":4.4,"mu":0.203,"s":"OX9BP3"},{"x":4.45,"mu":0.201,"s":"OX9BP3"},{"x":4.5,"mu":0.203,"s":"OX9BP3"},{"x":4.55,"mu":0.202,"s":"OX9BP3"},{"x":4.6,"mu":0.204,"s":"OX9BP3"},{"x":4.65,"mu":0.202,"s":"OX9BP3"},{"x":4.7,"mu":0.205,"s":"OX9BP3"},{"x":4.75,"mu":0.203,"s":"OX9BP3"},{"x":4.8,"mu":0.206,"s":"OX9BP3"},{"x":4.85,"mu":0.204,"s":"OX9BP3"},{"x":4.9,"mu":0.207,"s":"OX9BP3"},{"x":4.95,"mu":0.205,"s":"OX9BP3"},{"x":5.0,"mu":0.208,"s":"OX9BP3"},{"x":5.05,"mu":0.206,"s":"OX9BP3"},{"x":5.1,"mu":0.209,"s":"OX9BP3"},{"x":5.15,"mu":0.207,"s":"OX9BP3"},{"x":5.2,"mu":0.21,"s":"OX9BP3"},{"x":5.25,"mu":0.208,"s":"OX9BP3"},{"x":5.3,"mu":0.211,"s":"OX9BP3"},{"x":5.35,"mu":0.209,"s":"OX9BP3"},{"x":5.4,"mu":0.212,"s":"OX9BP3"},{"x":5.45,"mu":0.21,"s":"OX9BP3"},{"x":5.5,"mu":0.213,"s":"OX9BP3"},{"x":5.55,"mu":0.211,"s":"OX9BP3"},{"x":5.6,"mu":0.214,"s":"OX9BP3"},{"x":5.65,"mu":0.212,"s":"OX9BP3"},{"x":5.7,"mu":0.215,"s":"OX9BP3"},{"x":5.75,"mu":0.213,"s":"OX9BP3"},{"x":5.8,"mu":0.217,"s":"OX9BP3"},{"x":5.85,"mu":0.215,"s":"OX9BP3"},{"x":5.9,"mu":0.219,"s":"OX9BP3"},{"x":5.95,"mu":0.217,"s":"OX9BP3"},{"x":6.0,"mu":0.221,"s":"OX9BP3"},{"x":6.05,"mu":0.219,"s":"OX9BP3"},{"x":6.1,"mu":0.222,"s":"OX9BP3"},{"x":6.15,"mu":0.22,"s":"OX9BP3"},{"x":6.2,"mu":0.223,"s":"OX9BP3"},{"x":6.25,"mu":0.221,"s":"OX9BP3"},{"x":6.3,"mu":0.225,"s":"OX9BP3"},{"x":6.35,"mu":0.222,"s":"OX9BP3"},{"x":6.4,"mu":0.226,"s":"OX9BP3"},{"x":6.45,"mu":0.223,"s":"OX9BP3"},{"x":6.5,"mu":0.227,"s":"OX9BP3"},{"x":6.55,"mu":0.224,"s":"OX9BP3"},{"x":6.6,"mu":0.228,"s":"OX9BP3"},{"x":6.65,"mu":0.226,"s":"OX9BP3"},{"x":6.7,"mu":0.23,"s":"OX9BP3"},{"x":6.75,"mu":0.228,"s":"OX9BP3"},{"x":6.8,"mu":0.232,"s":"OX9BP3"},{"x":6.85,"mu":0.23,"s":"OX9BP3"},{"x":6.9,"mu":0.234,"s":"OX9BP3"},{"x":6.95,"mu":0.233,"s":"OX9BP3"},{"x":7.0,"mu":0.237,"s":"OX9BP3"},{"x":7.05,"mu":0.24,"s":"OX9BP3"},{"x":7.1,"mu":0.245,"s":"OX9BP3"},{"x":7.15,"mu":0.248,"s":"OX9BP3"},{"x":7.2,"mu":0.25,"s":"OX9BP3"},{"x":7.25,"mu":0.253,"s":"OX9BP3"},{"x":7.3,"mu":0.258,"s":"OX9BP3"},{"x":7.35,"mu":0.263,"s":"OX9BP3"},{"x":7.4,"mu":0.268,"s":"OX9BP3"},{"x":7.45,"mu":0.272,"s":"OX9BP3"},{"x":7.5,"mu":0.277,"s":"OX9BP3"},{"x":7.54,"mu":0.285,"s":"OX9BP3"},{"x":7.58,"mu":0.296,"s":"OX9BP3"},{"x":7.62,"mu":0.306,"s":"OX9BP3"},{"x":7.65,"mu":0.313,"s":"OX9BP3"},{"x":7.7,"mu":0.316,"s":"OX9BP3"},{"x":7.76,"mu":0.321,"s":"OX9BP3"},{"x":7.8,"mu":0.333,"s":"OX9BP3"},{"x":7.85,"mu":0.35,"s":"OX9BP3"},{"x":7.9,"mu":0.37,"s":"OX9BP3"},{"x":7.94,"mu":0.376,"s":"OX9BP3"},{"x":7.98,"mu":0.374,"s":"OX9BP3"},{"x":8.02,"mu":0.39,"s":"OX9BP3"},{"x":8.06,"mu":0.406,"s":"OX9BP3"},{"x":8.1,"mu":0.43,"s":"OX9BP3"},{"x":8.15,"mu":0.452,"s":"OX9BP3"},{"x":8.2,"mu":0.469,"s":"OX9BP3"},{"x":8.25,"mu":0.48,"s":"OX9BP3"},{"x":8.3,"mu":0.492,"s":"OX9BP3"},{"x":8.35,"mu":0.505,"s":"OX9BP3"},{"x":8.4,"mu":0.518,"s":"OX9BP3"},{"x":8.45,"mu":0.527,"s":"OX9BP3"},{"x":8.49,"mu":0.533,"s":"OX9BP3"},{"x":8.55,"mu":0.537,"s":"OX9BP3"},{"x":8.6,"mu":0.538,"s":"OX9BP3"},{"x":8.64,"mu":0.542,"s":"OX9BP3"},{"x":8.7,"mu":0.555,"s":"OX9BP3"},{"x":8.75,"mu":0.566,"s":"OX9BP3"},{"x":8.8,"mu":0.577,"s":"OX9BP3"},{"x":8.85,"mu":0.587,"s":"OX9BP3"},{"x":8.9,"mu":0.594,"s":"OX9BP3"},{"x":8.95,"mu":0.602,"s":"OX9BP3"},{"x":9.0,"mu":0.61,"s":"OX9BP3"},{"x":9.05,"mu":0.617,"s":"OX9BP3"},{"x":9.1,"mu":0.619,"s":"OX9BP3"},{"x":9.15,"mu":0.622,"s":"OX9BP3"},{"x":9.2,"mu":0.634,"s":"OX9BP3"},{"x":9.24,"mu":0.645,"s":"OX9BP3"},{"x":9.4,"mu":0.634,"s":"OX9BP3"},{"x":9.6,"mu":0.619,"s":"OX9BP3"},{"x":9.8,"mu":0.605,"s":"OX9BP3"},{"x":10.0,"mu":0.592,"s":"OX9BP3"}
    ],
    "force": [
      {"x":0,"F":2.8,"s":"Erő"},{"x":0.2,"F":4.0,"s":"Erő"},{"x":0.38,"F":5.3,"s":"Erő"},{"x":0.45,"F":4.9,"s":"Erő"},{"x":0.6,"F":6.5,"s":"Erő"},{"x":0.96,"F":10.8,"s":"Erő"},{"x":1.51,"F":16,"s":"Erő"},{"x":2.05,"F":20.2,"s":"Erő"},{"x":2.6,"F":25,"s":"Erő"},{"x":3.14,"F":30,"s":"Erő"},{"x":3.69,"F":35.7,"s":"Erő"},{"x":4.2,"F":40.6,"s":"Erő"},{"x":5.2,"F":50.3,"s":"Erő"},{"x":6.28,"F":60,"s":"Erő"},{"x":6.86,"F":65.4,"s":"Erő"},{"x":7.25,"F":70,"s":"Erő"},{"x":7.8,"F":75,"s":"Erő"},{"x":8.38,"F":80,"s":"Erő"},{"x":9.2,"F":88,"s":"Erő"},{"x":10,"F":95,"s":"Erő"}
    ],
    "vref": [{"x":7.25,"mu":0.1,"mu2":0.7}],
    "href": [{"x":4.945,"x2":10.37,"mu":0.45}]
  },
  "layer": [
    {
      "data": {"name": "fric"},
      "mark": {"type": "line", "clip": true, "strokeWidth": 1.6},
      "encoding": {
        "x": {"field": "x", "type": "quantitative", "scale": {"domain": [0, 10], "nice": false},
          "axis": {"values": [0,1,2,3,4,5,6,7,8,9,10], "format": "d", "tickSize": 11, "labelPadding": 21, "grid": false, "title": "Scratch length, l, mm", "titlePadding": 16}},
        "y": {"field": "mu", "type": "quantitative", "scale": {"domain": [0.1, 0.7], "nice": false, "zero": false},
          "axis": {"values": [0.1,0.2,0.3,0.4,0.5,0.6,0.7], "format": ".1f", "tickSize": 11, "labelPadding": 24, "grid": true, "title": "Friction coefficient, μ, -", "titlePadding": 32}},
        "color": {"field": "s", "type": "nominal",
          "scale": {"domain": ["OX9BP1","OX9BP2","OX9BP3","Erő"], "range": ["#111111","#F07D3C","#22B24C","#9a9a9a"]},
          "legend": {"title": null, "orient": "none", "legendX": 231, "legendY": 5, "fillColor": "white", "padding": 6, "symbolType": "stroke", "symbolSize": 3025, "symbolStrokeWidth": 2, "labelFontSize": 28, "labelColor": "#1a1a1a", "labelOffset": 5, "rowPadding": 3}},
        "strokeDash": {"field": "s", "type": "nominal",
          "scale": {"domain": ["OX9BP1","OX9BP2","OX9BP3","Erő"], "range": [[1,0],[1,0],[1,0],[5,4]]},
          "legend": {"title": null, "orient": "none", "legendX": 231, "legendY": 5, "fillColor": "white", "padding": 6, "symbolType": "stroke", "symbolSize": 3025, "symbolStrokeWidth": 2, "labelFontSize": 28, "labelColor": "#1a1a1a", "labelOffset": 5, "rowPadding": 3}}
      }
    },
    {
      "data": {"name": "force"},
      "mark": {"type": "line", "clip": true, "strokeWidth": 1.5},
      "encoding": {
        "x": {"field": "x", "type": "quantitative"},
        "y": {"field": "F", "type": "quantitative", "scale": {"domain": [0, 120], "nice": false},
          "axis": {"orient": "right", "values": [0,20,40,60,80,100,120], "format": "d", "tickSize": 12, "labelPadding": 22, "grid": false, "title": "F, Normal load, N", "titleAngle": 270, "titleBaseline": "top", "titlePadding": 10}},
        "color": {"field": "s", "type": "nominal"},
        "strokeDash": {"field": "s", "type": "nominal"}
      }
    },
    {
      "layer": [
        {
          "data": {"name": "vref"},
          "mark": {"type": "rule", "color": "#ff0000", "strokeWidth": 8, "strokeDash": [24, 8]},
          "encoding": {
            "x": {"field": "x", "type": "quantitative"},
            "y": {"field": "mu", "type": "quantitative", "scale": {"domain": [0.1, 0.7], "nice": false, "zero": false}, "axis": null},
            "y2": {"field": "mu2"}
          }
        },
        {
          "data": {"name": "href"},
          "mark": {"type": "rule", "color": "#ff0000", "strokeWidth": 8, "strokeDash": [24, 10]},
          "encoding": {
            "x": {"field": "x", "type": "quantitative"},
            "x2": {"field": "x2"},
            "y": {"field": "mu", "type": "quantitative", "scale": {"domain": [0.1, 0.7], "nice": false, "zero": false}, "axis": null}
          }
        }
      ]
    }
  ],
  "resolve": {"scale": {"y": "independent"}}
}
